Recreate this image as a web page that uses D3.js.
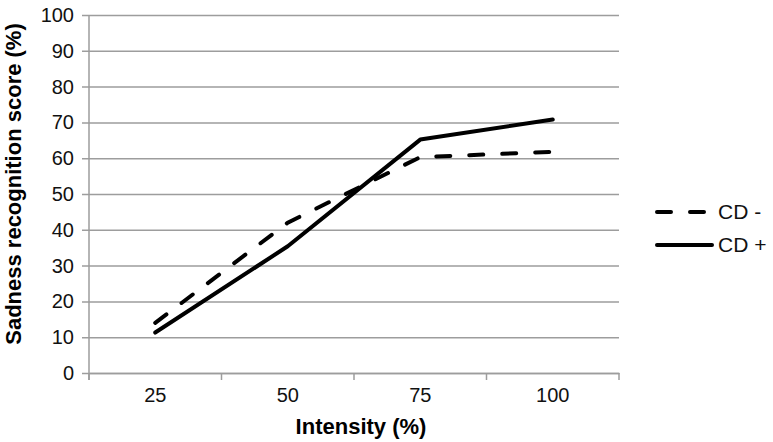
<!DOCTYPE html>
<html><head><meta charset="utf-8">
<script src="https://cdn.jsdelivr.net/npm/d3@7"></script>
<style>body{margin:0;background:#fff}svg{display:block}</style>
</head><body>
<svg id="chart" width="773" height="442"></svg>
<script>
const categories = ["25", "50", "75", "100"];
const cdMinus = [14.0, 42.0, 60.3, 61.8];
const cdPlus = [11.3, 35.4, 65.2, 70.8];
const yTicks = [0, 10, 20, 30, 40, 50, 60, 70, 80, 90, 100];
const seriesNames = ["CD -", "CD +"];

(function () {
const svg = d3.select("#chart");
const font = "'Liberation Sans', Arial, Helvetica, sans-serif";
const pLeft = 89, pRight = 619, pTop = 15, pBottom = 373;
const grid = "#9d9d9d";

const x = d3.scaleBand().domain(categories).range([pLeft, pRight]);
const y = d3.scaleLinear().domain([0, 100]).range([pBottom, pTop]);

// gridlines + y axis
const yAxis = d3.axisLeft(y).tickValues(yTicks).tickSize(-(pRight - pLeft)).tickPadding(15);
const gy = svg.append("g").attr("transform", `translate(${pLeft},0)`).call(yAxis);
gy.select(".domain").remove();
gy.selectAll(".tick line").attr("stroke", grid).attr("stroke-width", 1.5).attr("x1", -7);
gy.selectAll(".tick text").attr("font-family", font).attr("font-size", 20).attr("fill", "#111");

// x axis
const xAxis = d3.axisBottom(x).tickSize(0).tickPadding(0);
const gx = svg.append("g").attr("transform", `translate(0,${pBottom})`).call(xAxis);
gx.select(".domain").attr("stroke", grid).attr("stroke-width", 1.5);
gx.selectAll(".tick text").attr("font-family", font).attr("font-size", 20).attr("fill", "#111")
  .attr("y", 29).attr("dy", null);
const bounds = categories.map(c => x(c)).concat([x.range()[1]]);
gx.selectAll(".bt").data(bounds).enter().append("line")
  .attr("x1", d => d).attr("x2", d => d).attr("y1", 0).attr("y2", 7)
  .attr("stroke", grid).attr("stroke-width", 1.5);
svg.append("line").attr("x1", pLeft).attr("x2", pLeft).attr("y1", pTop).attr("y2", pBottom + 7)
  .attr("stroke", grid).attr("stroke-width", 1.5);

const line = d3.line().x((d, i) => x(categories[i]) + x.bandwidth() / 2).y(d => y(d));
svg.append("path").datum(cdMinus).attr("d", line).attr("fill", "none")
  .attr("stroke", "#000").attr("stroke-width", 4).attr("stroke-linecap", "round")
  .attr("stroke-dasharray", "14,19");
svg.append("path").datum(cdPlus).attr("d", line).attr("fill", "none")
  .attr("stroke", "#000").attr("stroke-width", 4).attr("stroke-linecap", "round")
  .attr("stroke-linejoin", "round");

svg.append("text").attr("x", 361).attr("y", 434).attr("text-anchor", "middle")
  .attr("font-family", font).attr("font-size", 22).attr("font-weight", "bold").text("Intensity (%)");
svg.append("text").attr("transform", `translate(21,184) rotate(-90)`)
  .attr("text-anchor", "middle").attr("font-family", font).attr("font-size", 22)
  .attr("font-weight", "bold").text("Sadness recognition score (%)");

const leg = svg.append("g");
const ly = [212, 245];
leg.selectAll("line").data(seriesNames).enter().append("line")
  .attr("x1", 657).attr("x2", (d, i) => i === 0 ? 704 : 712)
  .attr("y1", (d, i) => ly[i]).attr("y2", (d, i) => ly[i])
  .attr("stroke", "#000").attr("stroke-width", 4).attr("stroke-linecap", "round")
  .attr("stroke-dasharray", (d, i) => i === 0 ? "14,19" : null);
leg.selectAll("text").data(seriesNames).enter().append("text")
  .attr("x", 718).attr("y", (d, i) => ly[i]).attr("dy", "0.35em")
  .attr("font-family", font).attr("font-size", 21).attr("fill", "#111").text(d => d);
})();
</script>
</body></html>
